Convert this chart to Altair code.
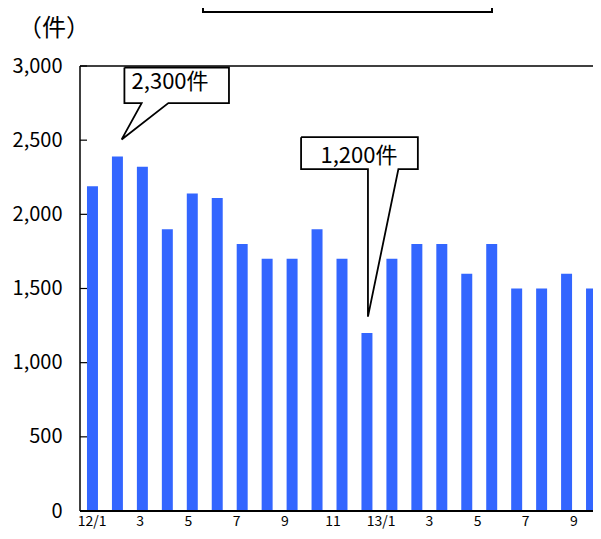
import altair as alt
import pandas as pd

# ---- data ----
months = ["12/1", "12/2", "12/3", "12/4", "12/5", "12/6", "12/7", "12/8", "12/9",
          "12/10", "12/11", "12/12", "13/1", "13/2", "13/3", "13/4", "13/5", "13/6",
          "13/7", "13/8", "13/9"]
counts = [2190, 2390, 2320, 1900, 2140, 2110, 1800, 1700, 1700, 1900, 1700, 1200,
          1700, 1800, 1800, 1600, 1800, 1500, 1500, 1600, 1500]
tick_labels = ["12/1", "", "3", "", "5", "", "7", "", "9", "", "11", "",
               "13/1", "", "3", "", "5", "", "7", "", "9"]
y_ticks = [0, 500, 1000, 1500, 2000, 2500, 3000]
unit_label = "（件）"
callout_texts = ["2,300件", "1,200件"]

# callout geometry in data units (x: month index, bar i centred at i-0.5; y: count)
callout_boxes = [(1.78, 5.97, 2990, 2750), (8.86, 13.54, 2520, 2305)]
callout_bases = [(2.47, 3.54), (11.54, 12.76)]
callout_tips = [(1.67, 2505), (11.54, 1310)]
callout_text_pos = [(3.61, 2890), (11.18, 2390)]

FONT = "Noto Sans CJK JP"
BLUE = "#3366ff"
PLOT_W = 513      # visible plot width (page is clipped on the right like the reference)
FULL_W = 524      # full width of the 21-month band range
PLOT_H = 445

bars_df = pd.DataFrame({"month": months, "count": counts})
labels_df = pd.DataFrame({"month": months, "label": tick_labels})
ticks_df = pd.DataFrame({"v": y_ticks})

rows = []
for i, ((x0, x1, yt, yb), (bl, br), (tx, ty)) in enumerate(zip(callout_boxes, callout_bases, callout_tips)):
    pts = [(x0, yt), (x1, yt), (x1, yb), (br, yb), (tx, ty), (bl, yb), (x0, yb), (x0, yt)]
    for o, (px, py) in enumerate(pts):
        rows.append({"id": i, "o": o, "x": px, "y": py})
outline_df = pd.DataFrame(rows)
boxes_df = pd.DataFrame([{"x0": b[0], "x1": b[1], "yt": b[2], "yb": b[3]} for b in callout_boxes])
ctext_df = pd.DataFrame([{"x": p[0], "y": p[1], "t": t} for p, t in zip(callout_text_pos, callout_texts)])

y_scale = alt.Scale(domain=[0, 3000], nice=False)
y_axis = alt.Axis(values=y_ticks, format=",d", ticks=False, tickSize=0, domain=False, grid=False,
                  labelFont=FONT, labelFontSize=20, labelColor="black", labelPadding=18, title=None)
ann_x = alt.Scale(domain=[0, 21], range=[0, FULL_W], nice=False, zero=False)

bars = alt.Chart(bars_df).mark_bar(color=BLUE).encode(
    x=alt.X("month:N", sort=months,
            scale=alt.Scale(domain=months, range=[0, FULL_W], paddingInner=0.56, paddingOuter=0.28),
            axis=None),
    y=alt.Y("count:Q", scale=y_scale, axis=y_axis),
)

ticks = alt.Chart(ticks_df).mark_rule(color="black", strokeWidth=1.2).encode(
    y=alt.Y("v:Q", scale=y_scale, axis=y_axis),
    x=alt.value(0), x2=alt.value(7),
)

one = pd.DataFrame({"k": [0]})
frame_top = alt.Chart(one).mark_rule(color="black", strokeWidth=1.5).encode(
    x=alt.value(0), x2=alt.value(FULL_W + 10), y=alt.value(0))
frame_left = alt.Chart(one).mark_rule(color="black", strokeWidth=1.5).encode(
    x=alt.value(0), y=alt.value(0), y2=alt.value(PLOT_H))
frame_bottom = alt.Chart(one).mark_rule(color="black", strokeWidth=2).encode(
    x=alt.value(0), x2=alt.value(FULL_W + 10), y=alt.value(PLOT_H))

xlab = alt.Chart(labels_df).mark_text(font=FONT, fontSize=14, color="black",
                                      baseline="middle", align="center").encode(
    x=alt.X("month:N", scale=alt.Scale(domain=months, range=[0, 506], paddingInner=0, paddingOuter=0),
            axis=None),
    y=alt.value(456),
    text="label:N",
)

boxfill = alt.Chart(boxes_df).mark_rect(color="white").encode(
    x=alt.X("x0:Q", scale=ann_x, axis=None), x2="x1:Q",
    y=alt.Y("yt:Q", scale=y_scale, axis=y_axis), y2="yb:Q",
)

outline = alt.Chart(outline_df).mark_line(color="black", strokeWidth=1.8, strokeJoin="miter").encode(
    x=alt.X("x:Q", scale=ann_x, axis=None),
    y=alt.Y("y:Q", scale=y_scale, axis=y_axis),
    detail="id:N",
    order="o:Q",
)

ctext = alt.Chart(ctext_df).mark_text(font=FONT, fontSize=22, color="black",
                                      baseline="middle", align="center").encode(
    x=alt.X("x:Q", scale=ann_x, axis=None),
    y=alt.Y("y:Q", scale=y_scale, axis=y_axis),
    text="t:N",
)

unit = alt.Chart(pd.DataFrame({"t": [unit_label]})).mark_text(
    font=FONT, fontSize=24, color="black", baseline="middle", align="center").encode(
    x=alt.value(-26), y=alt.value(-37), text="t:N")

# boxed title at the top, cut off by the page edge as in the reference
titlebox = alt.Chart(one).mark_rect(
    fill="white", stroke="black", strokeWidth=2).encode(
    x=alt.value(123), x2=alt.value(412), y=alt.value(-100), y2=alt.value(-54))

chart = alt.layer(
    bars, ticks, frame_top, frame_left, frame_bottom, xlab,
    boxfill, outline, ctext, unit, titlebox
).resolve_scale(
    x="independent"
).properties(
    width=PLOT_W, height=PLOT_H,
    autosize=alt.AutoSizeParams(type="none"),
    padding={"left": 72, "top": 58, "right": 0, "bottom": 20},
    background="white",
).configure_view(stroke=None)

chart.save("out.html", embed_options={"renderer": "svg", "actions": False})
